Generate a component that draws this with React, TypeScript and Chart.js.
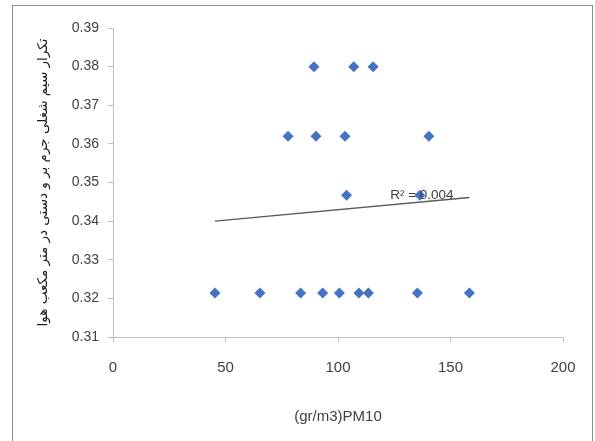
import React, { useEffect, useRef } from 'react';
import { Chart, registerables } from 'chart.js';

Chart.register(...registerables);

// PM10 concentration (x) and measured value (y)
const pm10Values = [89.3, 107, 115.6, 77.8, 90.2, 103.1, 140.4, 103.8, 136.4, 45.3, 65.3, 83.4, 93.2, 100.6, 109.3, 113.5, 135.3, 158.4];
const measuredValues = [0.38, 0.38, 0.38, 0.362, 0.362, 0.362, 0.362, 0.3467, 0.3467, 0.3214, 0.3214, 0.3214, 0.3214, 0.3214, 0.3214, 0.3214, 0.3214, 0.3214];

// linear trend line end points
const trendX = [45.3, 158.4];
const trendY = [0.34, 0.3461];

const xTickValues = [0, 50, 100, 150, 200];
const yTickValues = [0.31, 0.32, 0.33, 0.34, 0.35, 0.36, 0.37, 0.38, 0.39];

const xTitle = '(gr/m3)PM10';
const yTitle = 'تکرار سیم شغلی جرم بر و دستی در متر مکعب هوا';
const r2Text = 'R² = 0.004';
const r2Anchor = [137.3, 0.3467];

export default function App() {
  const canvasRef = useRef<HTMLCanvasElement | null>(null);

  useEffect(() => {
    const canvas = canvasRef.current;
    if (!canvas) return;

    const r2Plugin = {
      id: 'r2Label',
      afterDatasetsDraw(chart: any) {
        const { ctx, scales } = chart;
        const px = scales.x.getPixelForValue(r2Anchor[0]);
        const py = scales.y.getPixelForValue(r2Anchor[1]);
        ctx.save();
        ctx.font = '13.5px "Liberation Sans", Arial, sans-serif';
        ctx.fillStyle = '#404040';
        ctx.textAlign = 'center';
        ctx.textBaseline = 'middle';
        ctx.fillText(r2Text, px, py);
        ctx.restore();
      },
    };

    const chart = new Chart(canvas, {
      type: 'scatter',
      data: {
        datasets: [
          {
            label: 'data',
            data: pm10Values.map((x, i) => ({ x, y: measuredValues[i] })),
            backgroundColor: '#4472C4',
            borderColor: '#4472C4',
            borderWidth: 0,
            pointStyle: 'rectRot',
            pointRadius: 5.5,
            order: 2,
          },
          {
            label: 'trend',
            type: 'line',
            data: trendX.map((x, i) => ({ x, y: trendY[i] })),
            borderColor: '#5a5a5a',
            borderWidth: 1.5,
            pointRadius: 0,
            showLine: true,
            fill: false,
            order: 1,
          } as any,
        ],
      },
      options: {
        animation: false,
        responsive: false,
        maintainAspectRatio: false,
        layout: { padding: { top: 28, right: 32, left: 0, bottom: 0 } },
        plugins: {
          legend: { display: false },
          tooltip: { enabled: false },
        },
        scales: {
          x: {
            type: 'linear',
            min: 0,
            max: 200,
            afterBuildTicks: (scale: any) => {
              scale.ticks = xTickValues.map((v) => ({ value: v }));
            },
            afterFit: (scale: any) => {
              scale.height = 104;
            },
            ticks: {
              color: '#404040',
              font: { family: '"Liberation Sans", Arial, sans-serif', size: 15 },
              padding: 17,
              callback: (v: any) => String(v),
            },
            grid: { drawOnChartArea: false, drawTicks: true, tickLength: 5, color: '#bfbfbf' },
            border: { display: true, color: '#bfbfbf', width: 1 },
            title: {
              display: true,
              text: xTitle,
              color: '#404040',
              font: { family: '"Liberation Sans", Arial, sans-serif', size: 15 },
              padding: { top: 0, bottom: 15 },
            },
          },
          y: {
            type: 'linear',
            min: 0.31,
            max: 0.39,
            afterBuildTicks: (scale: any) => {
              scale.ticks = yTickValues.map((v) => ({ value: v }));
            },
            afterFit: (scale: any) => {
              scale.width = 113;
            },
            ticks: {
              color: '#404040',
              font: { family: '"Liberation Sans", Arial, sans-serif', size: 14 },
              padding: 9,
              callback: (v: any) => Number(v).toFixed(2),
            },
            grid: { drawOnChartArea: false, drawTicks: true, tickLength: 5, color: '#bfbfbf' },
            border: { display: true, color: '#bfbfbf', width: 1 },
            title: {
              display: true,
              text: yTitle,
              color: '#1a1a1a',
              font: { family: '"DejaVu Sans", sans-serif', size: 13.5 },
              padding: { top: 35, bottom: 0 },
            },
          },
        },
      },
      plugins: [r2Plugin],
    });

    return () => {
      chart.destroy();
    };
  }, []);

  return (
    <div style={{ position: 'fixed', left: 0, top: 0, width: 595, height: 441, background: '#ffffff', overflow: 'hidden' }}>
      <div
        style={{
          position: 'absolute',
          left: 12,
          top: 5,
          width: 581,
          height: 470,
          boxSizing: 'border-box',
          border: '1px solid #8c8c8c',
        }}
      />
      <canvas
        ref={canvasRef}
        width={595}
        height={441}
        style={{ position: 'absolute', left: 0, top: 0, width: 595, height: 441 }}
      />
    </div>
  );
}
